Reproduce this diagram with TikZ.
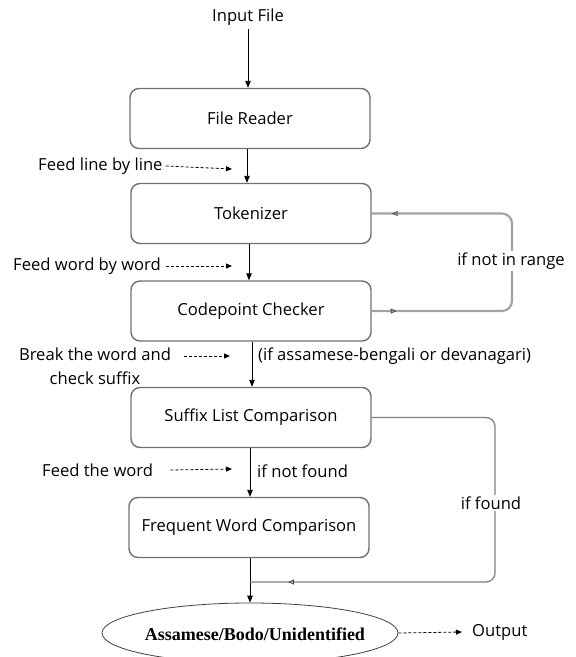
\documentclass[tikz,border=0pt]{standalone}
\usepackage{fontspec}
\setmainfont{Open Sans}
\newfontfamily\serifb{Liberation Serif}
\usetikzlibrary{arrows.meta,shapes.geometric,decorations.markings}
\definecolor{boxgray}{HTML}{707070}
\definecolor{loopgray}{HTML}{A3A3A3}
\definecolor{foundgray}{HTML}{808080}
\definecolor{ellgray}{HTML}{404040}
\begin{document}
\begin{tikzpicture}[x=1pt,y=-1pt,
  font=\fontsize{16.6}{20}\selectfont,
  box/.style={draw=boxgray, line width=1.4pt, rounded corners=9pt, minimum width=240pt, minimum height=60pt, inner sep=0pt},
  flow/.style={draw=black, line width=0.9pt, -{Triangle[length=7pt,width=5.5pt]}},
  feed/.style={draw=black, line width=0.8pt, dash pattern=on 3pt off 2pt, -{Triangle[length=6pt,width=5pt]}},
  lbl/.style={inner sep=0pt, anchor=west},
  gap/.style={fill=white, inner sep=2pt},
  rangeloop/.style={draw=loopgray, line width=2.2pt, rounded corners=10pt,
    postaction={decorate},
    decoration={markings,
      mark=at position 25pt with {\arrow[line width=0.8pt, draw=black!70]{Triangle[open,length=6pt,width=5pt]}},
      mark=at position -20pt with {\arrow[line width=0.8pt, draw=black!70]{Triangle[open,length=6pt,width=5pt]}}}},
  foundloop/.style={draw=foundgray, line width=1.3pt, rounded corners=9pt,
    postaction={decorate},
    decoration={markings,
      mark=at position -38pt with {\arrow[line width=0.8pt, draw=black!70]{Triangle[open,length=6pt,width=5pt]}}}}
]
\clip (0,0) rectangle (576,657);

% main column
\node (input) at (248,17) {Input File};
\node[box] (reader) at (250,118.5) {File Reader};
\node[box] (tok) at (251,213.5) {Tokenizer};
\node[box] (cp) at (251,311) {Codepoint Checker};
\node[box] (suf) at (251,417.5) {Suffix List Comparison};
\node[box] (freq) at (249,527.5) {Frequent Word Comparison};
\node[draw=ellgray, ellipse, line width=0.8pt, minimum width=296pt, minimum height=60pt, inner sep=0pt] (ell) at (250,633) {};
\node[inner sep=0pt, font=\serifb\bfseries\fontsize{18}{20}\selectfont] (ellt) at (255,634) {Assamese/Bodo/Unidentified};

\draw[flow] (input.south) -- (input.south |- reader.north);
\draw[flow] ([xshift=-3pt]reader.south) -- ([xshift=-3pt]reader.south |- tok.north);
\draw[flow] ([xshift=-2pt]tok.south) -- ([xshift=-2pt]tok.south |- cp.north);
\draw[flow] ([xshift=1pt]cp.south) -- ([xshift=1pt]cp.south |- suf.north);
\draw[flow] ([xshift=-1pt]suf.south) -- ([xshift=-1pt]suf.south |- freq.north);
\draw[flow] ([xshift=1pt]freq.south) -- ([xshift=1pt]freq.south |- ell.north);

% loops
\coordinate (join) at (250,582);
\draw[rangeloop] (cp.east) -| (512,262) |- (tok.east);
\node[gap] (nr) at (511,261) {if not in range};
\draw[foundloop] (suf.east) -| (495,503) |- (join);
\node[gap] (nf) at (491,503) {if found};

% side labels
\node[lbl] (l1) at (38,166) {Feed line by line};
\coordinate (e1) at (232,169);
\draw[feed] ([xshift=3pt]l1.east) -- (e1);

\node[lbl] (l2) at (13,266) {Feed word by word};
\coordinate (e2) at (232,266);
\draw[feed] ([xshift=5pt]l2.east) -- (e2);

\node[inner sep=0pt, align=center, font=\fontsize{16.6}{24}\selectfont] (l3) at (95,366) {Break the word and\\check suffix};
\coordinate (s3) at (184,356);
\coordinate (e3) at (230,356);
\draw[feed] (s3) -- (e3);
\node[lbl] (c3) at (258,356) {(if assamese-bengali or devanagari)};

\node[lbl] (l4) at (42,470) {Feed the word};
\coordinate (e4) at (232,469);
\draw[feed] ([xshift=17pt]l4.east) -- (e4);
\node[lbl] (c4) at (257,471) {if not found};

\node[lbl] (out) at (472,632) {Output};
\draw[feed] (ell.east) -- ([xshift=-10pt]out.west);
\end{tikzpicture}
\end{document}
